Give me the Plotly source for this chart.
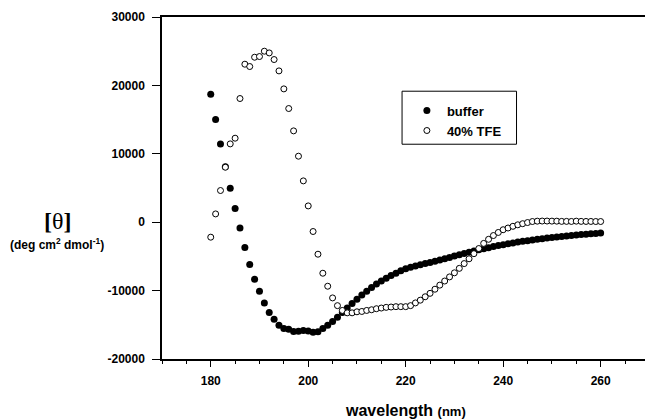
import plotly.graph_objects as go

wavelength = list(range(180, 261))

buffer_vals = [
    18700, 15000, 11450, 8100, 4970, 2000, -830, -3700, -6190, -8330,
    -10090, -11800, -13200, -14180, -15060, -15540, -15640, -15980, -15950, -15850,
    -15900, -16080, -16030, -15540, -15060, -14520, -13900, -13200, -12550, -11900,
    -11250, -10650, -10100, -9550, -9050, -8600, -8200, -7800, -7450, -7100,
    -6800, -6600, -6400, -6220, -6050, -5880, -5700, -5520, -5340, -5150,
    -4950, -4750, -4560, -4380, -4200, -4030, -3870, -3720, -3570, -3420,
    -3280, -3150, -3030, -2910, -2800, -2700, -2600, -2500, -2410, -2320,
    -2240, -2160, -2080, -2010, -1940, -1870, -1810, -1750, -1690, -1640,
    -1590,
]

tfe_vals = [
    -2190, 1210, 4630, 8040, 11450, 12280, 18080, 23100, 22760, 24120,
    24220, 25000, 24750, 23780, 22120, 19490, 16620, 13350, 9650, 6040,
    2380, -1360, -4680, -7460, -9360, -11070, -12200, -12900, -13250, -13250,
    -13100, -13050, -12900, -12800, -12650, -12550, -12450, -12400, -12350, -12350,
    -12350, -12200, -11800, -11400, -10900, -10400, -9800, -9200, -8600, -8000,
    -7400, -6750, -6050, -5350, -4600, -3850, -3100, -2500, -1950, -1500,
    -1100, -850, -600, -380, -220, -50, 100, 150, 170, 170,
    160, 150, 120, 120, 110, 150, 120, 110, 110, 100,
    100,
]

series_names = ["buffer", "40% TFE"]
x_tickvals = [180, 200, 220, 240, 260]
y_tickvals = [-20000, -10000, 0, 10000, 20000, 30000]
y_ticktext = ["-20000", "-10000", "0", "10000", "20000", "30000"]

FONT = "Liberation Sans, Arial, sans-serif"

fig = go.Figure()
fig.add_trace(go.Scatter(
    x=wavelength, y=buffer_vals, mode="markers", name=series_names[0],
    marker=dict(size=7, color="black", line=dict(width=0)),
))
fig.add_trace(go.Scatter(
    x=wavelength, y=tfe_vals, mode="markers", name=series_names[1],
    marker=dict(size=6, color="white", line=dict(width=1, color="black")),
))

fig.update_layout(
    width=645, height=419,
    margin=dict(l=162, r=0, t=17, b=60, autoexpand=False),
    paper_bgcolor="white", plot_bgcolor="white",
    font=dict(family=FONT, color="black", size=12),
    showlegend=True,
    legend=dict(
        x=0.507, y=0.77, xanchor="left", yanchor="top",
        bgcolor="rgba(0,0,0,0)", borderwidth=0,
        font=dict(family=FONT, size=13, weight="bold"),
        itemsizing="trace", tracegroupgap=0,
    ),
    xaxis=dict(
        range=[170, 269.1], tickvals=x_tickvals,
        ticks="outside", ticklen=6, tickwidth=1, tickcolor="black",
        showline=True, linecolor="black", linewidth=1.5, mirror=True,
        showgrid=False, zeroline=False, automargin=False,
        tickfont=dict(family=FONT, size=12, weight="bold"),
        ticklabelstandoff=4,
        minor=dict(dtick=5, tick0=170, ticks="outside", ticklen=3, tickcolor="black", showgrid=False),
    ),
    yaxis=dict(
        range=[-20000, 30000], tickvals=y_tickvals, ticktext=y_ticktext,
        ticks="outside", ticklen=8, tickwidth=1, tickcolor="black",
        showline=True, linecolor="black", linewidth=1.5, mirror=False,
        showgrid=False, zeroline=False, automargin=False,
        tickfont=dict(family=FONT, size=12, weight="bold"),
        ticklabelstandoff=5,
    ),
    shapes=[dict(type="rect", xref="paper", yref="paper",
                 x0=0.497, x1=0.734, y0=0.628, y1=0.783,
                 line=dict(color="black", width=1), fillcolor="rgba(0,0,0,0)")],
    annotations=[
        dict(text="<b>[</b>θ<b>]</b>", xref="paper", yref="paper",
             x=(58 - 162) / 483, y=(359 - 221) / 342, xanchor="center", yanchor="middle",
             showarrow=False, font=dict(family="Liberation Serif, Times New Roman, serif", size=24)),
        dict(text="<b>(deg cm<sup>2</sup> dmol<sup>-1</sup>)</b>", xref="paper", yref="paper",
             x=(57 - 162) / 483, y=(359 - 244) / 342, xanchor="center", yanchor="middle",
             showarrow=False, font=dict(family=FONT, size=12)),
        dict(text="<b>wavelength <span style='font-size:13px'>(nm)</span></b>", xref="paper", yref="paper",
             x=(405 - 162) / 483, y=(359 - 410) / 342, xanchor="center", yanchor="middle",
             showarrow=False, font=dict(family=FONT, size=16)),
    ],
)

fig.write_html(
    "out.html",
    config={"displayModeBar": False},
    post_script="document.body.style.margin='0';document.body.style.overflow='hidden';",
)
